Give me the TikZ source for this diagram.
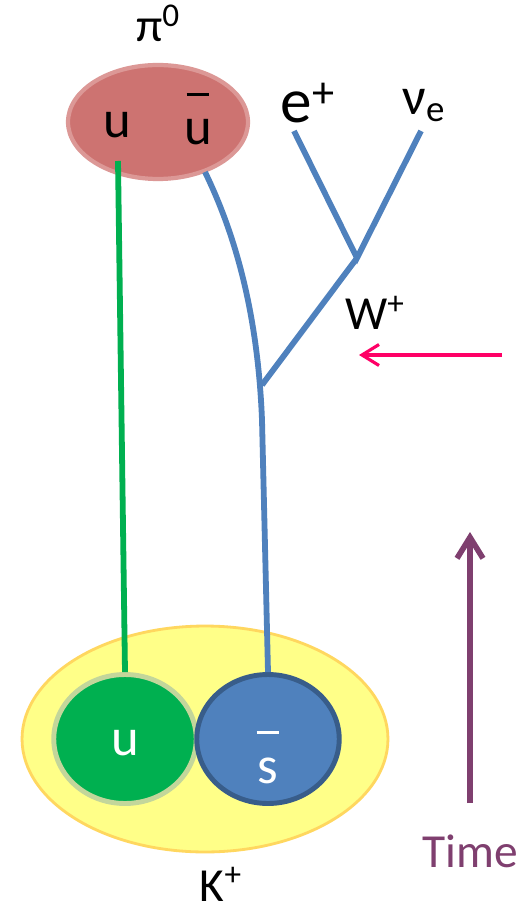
\documentclass[tikz,border=0pt]{standalone}
\usepackage{fontspec}
\setmainfont{Carlito}
\usetikzlibrary{arrows.meta, shapes.geometric, positioning}
\definecolor{pionfill}{RGB}{205,115,113}
\definecolor{piondraw}{RGB}{220,152,150}
\definecolor{kaonfill}{RGB}{255,255,136}
\definecolor{kaondraw}{RGB}{255,215,95}
\definecolor{upgreen}{RGB}{0,176,80}
\definecolor{upedge}{RGB}{195,214,155}
\definecolor{quarkblue}{RGB}{79,129,189}
\definecolor{quarkedge}{RGB}{56,93,138}
\definecolor{wpink}{RGB}{255,0,102}
\definecolor{timecolor}{RGB}{127,63,111}
\newcommand{\bigtxt}{\fontsize{30}{34}\selectfont}
\newcommand{\midtxt}{\fontsize{27}{31}\selectfont}
\newcommand{\leptxt}{\fontsize{36}{40}\selectfont}
\newcommand{\antiq}[1]{\begin{tabular}[b]{@{}c@{}}\rule{13pt}{1.4pt}\\[-6pt] #1\end{tabular}}

\begin{document}
\begin{tikzpicture}[x=0.02cm, y=-0.02cm,
    blob/.style={ellipse, inner sep=0pt},
    quarkline/.style={line width=3.3pt},
    txt/.style={inner sep=0pt, anchor=base, font=\midtxt},
    qtxt/.style={inner sep=0pt, anchor=base, font=\bigtxt}]
\useasboundingbox[fill=white] (0,0) rectangle (526,911);

\node[blob, fill=pionfill, draw=piondraw, line width=2.4pt, minimum width=3.6cm, minimum height=2.28cm] (pion) at (158,122) {};
\node[blob, fill=kaonfill, draw=kaondraw, line width=1.6pt, minimum width=7.32cm, minimum height=4.52cm] (kaon) at (205,739) {};

\coordinate (utop) at (118,161);
\coordinate (ubtop) at (205,172);
\coordinate (wlow) at (262,385);
\coordinate (wvtx) at (357,258);
\coordinate (etop) at (294,131);
\coordinate (nutop) at (421,131);
\coordinate (wsrc) at (502,355);
\coordinate (wdst) at (359,355);
\coordinate (tbot) at (470,803);
\coordinate (ttop) at (470,532);

\node[blob, fill=upgreen, draw=upedge, line width=2.8pt, minimum width=2.85cm, minimum height=2.58cm] (uq) at (125,739) {};
\node[blob, fill=quarkblue, draw=quarkedge, line width=2.8pt, minimum width=2.85cm, minimum height=2.58cm] (sq) at (268,739) {};

\draw[quarkline, upgreen] (utop) -- (uq.north);
\draw[quarkline, quarkblue] (ubtop) .. controls (238,240) and (258,320) .. (262,420) -- (sq.north);
\draw[quarkline, quarkblue] (wlow) -- (wvtx);
\draw[quarkline, quarkblue] (etop) -- (wvtx) -- (nutop);

\draw[wpink, line width=1.8pt, -{Straight Barb[length=0.34cm, width=0.42cm]}] (wsrc) -- (wdst);
\draw[timecolor, line width=3.2pt, -{Straight Barb[length=0.42cm, width=0.52cm]}] (tbot) -- (ttop);

\node[txt] (pilabel) at (158,42) {π\textsuperscript{0}};
\node[qtxt] (pu) at (117,138) {u};
\node[qtxt] (pubar) at (198,145) {\antiq{u}};
\node[qtxt, font=\leptxt] (elabel) at (308,123) {e\textsuperscript{+}};
\node[qtxt] (nulabel) at (424,115) {ν\textsubscript{e}};
\node[txt] (wlabel) at (375,330) {W\textsuperscript{+}};
\node[qtxt, white] (ulabel) at (125,755) {u};
\node[qtxt, white] (slabel) at (268,783) {\antiq{s}};
\node[txt] (klabel) at (221,901) {K\textsuperscript{+}};
\node[txt, timecolor] (tlabel) at (470,867) {Time};
\end{tikzpicture}
\end{document}
